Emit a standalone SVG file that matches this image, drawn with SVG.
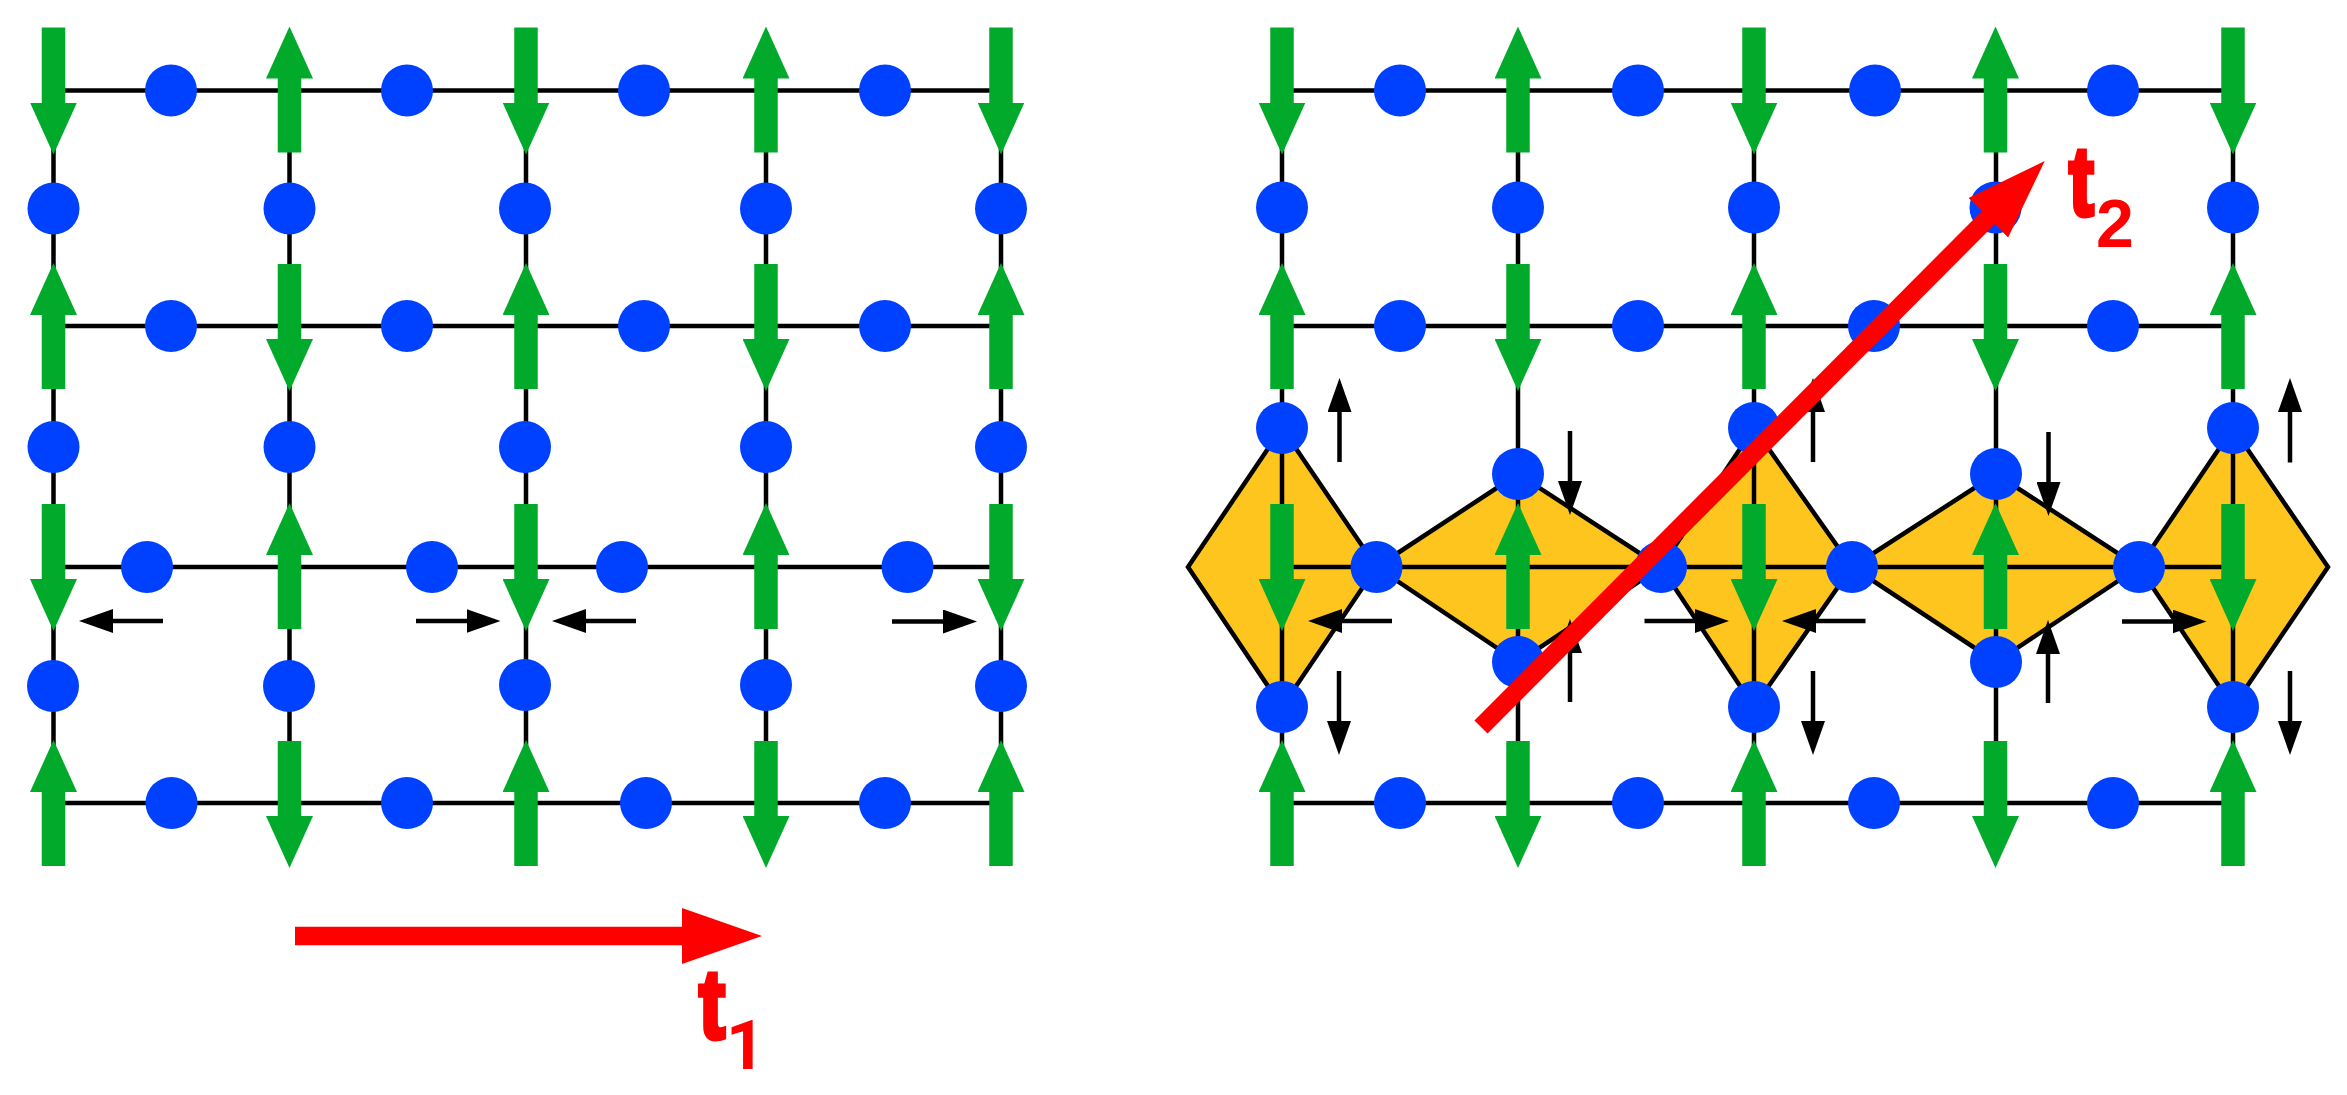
<svg xmlns="http://www.w3.org/2000/svg" width="2347" height="1095" viewBox="0 0 2347 1095">
<style>
.bond{stroke:#000;stroke-width:4.5;fill:none}
.site{fill:#0040ff}
.spin{stroke:#02aa2b;stroke-width:23.5;marker-end:url(#gh);fill:none}
.disp{stroke:#000;stroke-width:4.5;marker-end:url(#bh);fill:none}
.vec{stroke:#f00;stroke-width:18.5;marker-end:url(#rh);fill:none}
.oct{fill:#fec51e;stroke:#000;stroke-width:4.5;stroke-linejoin:miter}
.lab{fill:#f00;font-family:"Liberation Sans",Arial,sans-serif;font-weight:700;font-size:98px}
.t{stroke:#f00;stroke-width:5}
.sub{font-size:68px}
.one{font-family:Roboto,"Liberation Sans",sans-serif;font-size:68px}
</style>
<defs>
<marker id="gh" markerUnits="userSpaceOnUse" markerWidth="52" markerHeight="47" refX="1" refY="23.5" orient="auto"><path d="M0 0L52 23.5L0 47Z" fill="#02aa2b"/></marker>
<marker id="bh" markerUnits="userSpaceOnUse" markerWidth="34" markerHeight="24" refX="1" refY="12" orient="auto"><path d="M0 0L34 12L0 24Z" fill="#000"/></marker>
<marker id="rh" markerUnits="userSpaceOnUse" markerWidth="80" markerHeight="56" refX="1" refY="28" orient="auto"><path d="M0 0L80 28L0 56Z" fill="#f00"/></marker>
</defs>
<rect width="2347" height="1095" fill="#fff"/>
<g id="octahedra">
<polygon class="oct" points="1188,567 1282,428 1376.5,567 1282,707"/>
<polygon class="oct" points="1376.5,567 1518,474 1661,567 1518,662"/>
<polygon class="oct" points="1661,567 1754,428 1852,567 1754,707"/>
<polygon class="oct" points="1852,567 1996,474 2139,567 1996,662"/>
<polygon class="oct" points="2139,567 2233,428 2328,567 2233,707"/>
</g>
<g id="connectors">
<path class="bond" d="M53.5 90.5H1001M53.5 326H1001M53.5 567H1001M53.5 803H1001M53.5 90.5V803M289.5 90.5V803M526 90.5V803M766 90.5V803M1001 90.5V803"/>
<path class="bond" d="M1282 90.5H2233M1282 326H2233M1282 567H2233M1282 803H2233M1282 90.5V803M1518 90.5V803M1754 90.5V803M1996 90.5V803M2233 90.5V803"/>
</g>
<g id="sites-left" class="site">
<circle cx="171" cy="90.5" r="26"/><circle cx="407" cy="90.5" r="26"/><circle cx="644" cy="90.5" r="26"/><circle cx="885" cy="90.5" r="26"/>
<circle cx="53.5" cy="208.5" r="26"/><circle cx="289.5" cy="208.5" r="26"/><circle cx="525" cy="208.5" r="26"/><circle cx="766" cy="208.5" r="26"/><circle cx="1001" cy="208.5" r="26"/>
<circle cx="171" cy="326" r="26"/><circle cx="407" cy="326" r="26"/><circle cx="644" cy="326" r="26"/><circle cx="885" cy="326" r="26"/>
<circle cx="53.5" cy="447" r="26"/><circle cx="289.5" cy="447" r="26"/><circle cx="525" cy="447" r="26"/><circle cx="766" cy="447" r="26"/><circle cx="1001" cy="447" r="26"/>
<circle cx="147" cy="567" r="26"/><circle cx="432" cy="567" r="26"/><circle cx="622" cy="567" r="26"/><circle cx="907.5" cy="567" r="26"/>
<circle cx="53" cy="686" r="26"/><circle cx="289" cy="686" r="26"/><circle cx="525" cy="685" r="26"/><circle cx="766" cy="685" r="26"/><circle cx="1001" cy="686" r="26"/>
<circle cx="171.5" cy="803" r="26"/><circle cx="407" cy="803" r="26"/><circle cx="646" cy="803" r="26"/><circle cx="885" cy="803" r="26"/>
</g>
<g id="sites-right" class="site">
<circle cx="1400" cy="90.5" r="26"/><circle cx="1638" cy="90.5" r="26"/><circle cx="1875" cy="90.5" r="26"/><circle cx="2113" cy="90.5" r="26"/>
<circle cx="1282" cy="207.5" r="26"/><circle cx="1518" cy="207.5" r="26"/><circle cx="1754" cy="207.5" r="26"/><circle cx="1995.5" cy="207.5" r="26"/><circle cx="2233" cy="207.5" r="26"/>
<circle cx="1400" cy="326" r="26"/><circle cx="1638" cy="326" r="26"/><circle cx="1874" cy="326" r="26"/><circle cx="2113" cy="326" r="26"/>
<circle cx="1282" cy="428" r="26"/><circle cx="1754" cy="428" r="26"/><circle cx="2233" cy="428" r="26"/>
<circle cx="1518" cy="474" r="26"/><circle cx="1996" cy="474" r="26"/>
<circle cx="1376.5" cy="567" r="26"/><circle cx="1661" cy="567" r="26"/><circle cx="1852" cy="567" r="26"/><circle cx="2139" cy="567" r="26"/>
<circle cx="1518" cy="662" r="26"/><circle cx="1996" cy="662" r="26"/>
<circle cx="1282" cy="707" r="26"/><circle cx="1754" cy="707" r="26"/><circle cx="2233" cy="707" r="26"/>
<circle cx="1400" cy="803" r="26"/><circle cx="1638" cy="803" r="26"/><circle cx="1874" cy="803" r="26"/><circle cx="2113" cy="803" r="26"/>
</g>
<g id="spins-left">
<path class="spin" d="M53.5 27.5V103.5"/><path class="spin" d="M53.5 389V314"/><path class="spin" d="M53.5 504V580"/><path class="spin" d="M53.5 866V791"/>
<path class="spin" d="M289.5 152.5V77.5"/><path class="spin" d="M289.5 264V340"/><path class="spin" d="M289.5 629V554"/><path class="spin" d="M289.5 741V817"/>
<path class="spin" d="M526 27.5V103.5"/><path class="spin" d="M526 389V314"/><path class="spin" d="M526 504V580"/><path class="spin" d="M526 866V791"/>
<path class="spin" d="M766 152.5V77.5"/><path class="spin" d="M766 264V340"/><path class="spin" d="M766 629V554"/><path class="spin" d="M766 741V817"/>
<path class="spin" d="M1001 27.5V103.5"/><path class="spin" d="M1001 389V314"/><path class="spin" d="M1001 504V580"/><path class="spin" d="M1001 866V791"/>
</g>
<g id="spins-right">
<path class="spin" d="M1282 27.5V103.5"/><path class="spin" d="M1282 389V314"/><path class="spin" d="M1282 504V580"/><path class="spin" d="M1282 866V791"/>
<path class="spin" d="M1518 152.5V77.5"/><path class="spin" d="M1518 264V340"/><path class="spin" d="M1518 629V554"/><path class="spin" d="M1518 741V817"/>
<path class="spin" d="M1754 27.5V103.5"/><path class="spin" d="M1754 389V314"/><path class="spin" d="M1754 504V580"/><path class="spin" d="M1754 866V791"/>
<path class="spin" d="M1995.5 152.5V77.5"/><path class="spin" d="M1995.5 264V340"/><path class="spin" d="M1995.5 629V554"/><path class="spin" d="M1995.5 741V817"/>
<path class="spin" d="M2233 27.5V103.5"/><path class="spin" d="M2233 389V314"/><path class="spin" d="M2233 504V580"/><path class="spin" d="M2233 866V791"/>
</g>
<g id="displacements">
<path class="disp" d="M163 621H112"/><path class="disp" d="M416 621H467.5"/><path class="disp" d="M636 621H585"/><path class="disp" d="M892 621.5H944"/>
<path class="disp" d="M1339.5 462V411"/><path class="disp" d="M1570 431V482"/><path class="disp" d="M1392 621H1341"/><path class="disp" d="M1644.5 621H1696"/>
<path class="disp" d="M1339 671V722"/><path class="disp" d="M1570 702V652"/>
<path class="disp" d="M1813 462V411"/><path class="disp" d="M2048.5 432V483"/><path class="disp" d="M1865.5 621H1815"/><path class="disp" d="M2122 621.5H2173.5"/>
<path class="disp" d="M1813 671V722"/><path class="disp" d="M2048 703V653"/><path class="disp" d="M2290 462.5V411"/><path class="disp" d="M2290 671V722"/>
</g>
<g id="translations">
<path class="vec" d="M295 936H683"/>
<path class="vec" d="M1481 727L1989 217"/>
</g>
<g id="labels">
<text class="lab t" transform="translate(699 1038) scale(.8 1)">t</text><text class="lab one" x="726" y="1069">1</text>
<text class="lab t" transform="translate(2069 215) scale(.76 1)">t</text><text class="lab sub" x="2096" y="246.5">2</text>
</g>
</svg>
